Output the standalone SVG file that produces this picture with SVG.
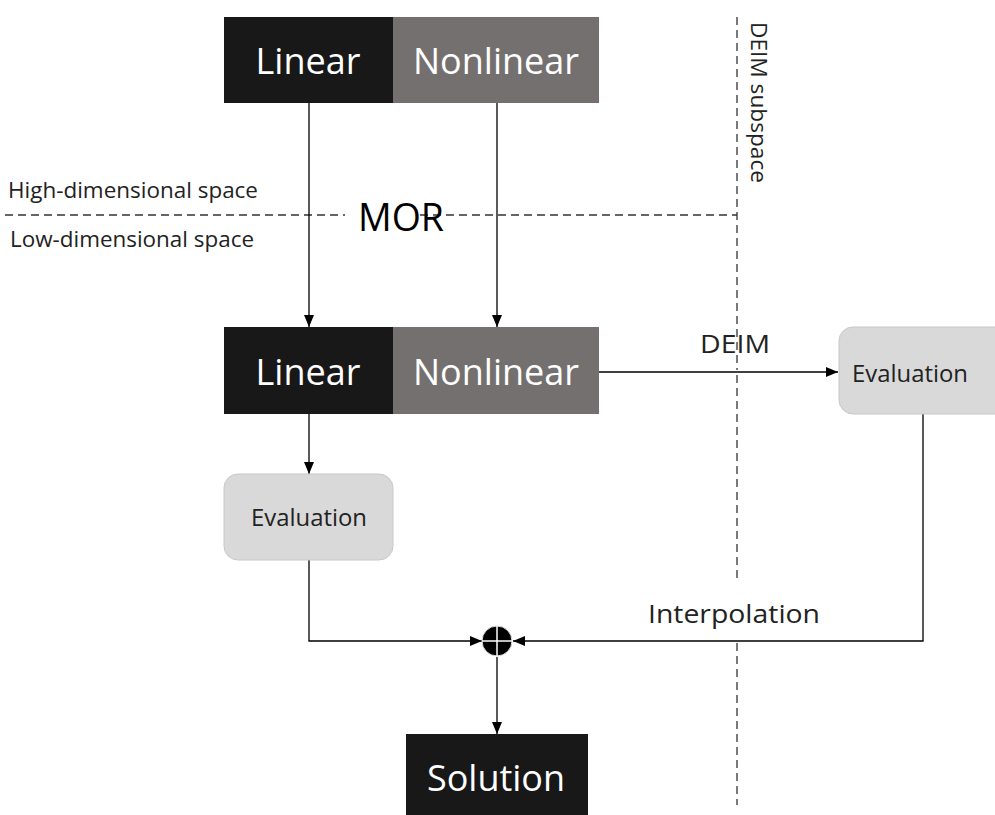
<svg xmlns="http://www.w3.org/2000/svg" width="995" height="815" viewBox="0 0 995 815">
<style>
text{font-family:"Open Sans","Noto Sans","DejaVu Sans",sans-serif;}
.wt{fill:#ffffff;font-size:36px;text-anchor:middle;}
.bt{fill:#222;text-anchor:middle;}
.ln{stroke:#000;stroke-width:1.3;fill:none;}
.dash{stroke:#333;stroke-width:1.3;fill:none;stroke-dasharray:8,5;}
.dark{fill:#181818;}
.gray{fill:#757070;}
.eval{fill:#d9d9d9;stroke:#c8c8c8;stroke-width:1;}
</style>
<defs>
<marker id="ah" markerWidth="12" markerHeight="10" refX="12" refY="5" orient="auto" markerUnits="userSpaceOnUse">
<path d="M0,0 L12,5 L0,10 Z" fill="#000"/>
</marker>
</defs>
<g id="dividers">
<line class="dash" x1="5" y1="215" x2="345" y2="215"/>
<line class="dash" x1="420" y1="215" x2="737" y2="215"/>
<line class="dash" x1="737" y1="17" x2="737" y2="370"/>
<line class="dash" x1="737" y1="375" x2="737" y2="582"/>
<line class="dash" x1="737" y1="643" x2="737" y2="805"/>
<text x="8" y="198" font-size="21" fill="#222" textLength="250" lengthAdjust="spacingAndGlyphs">High-dimensional space</text>
<text x="10" y="247" font-size="21" fill="#222" textLength="244" lengthAdjust="spacingAndGlyphs">Low-dimensional space</text>
<text x="401" y="231" font-size="38" fill="#000" text-anchor="middle" textLength="86" lengthAdjust="spacingAndGlyphs">MOR</text>
<text transform="translate(751,22) rotate(90)" font-size="21" fill="#222" textLength="161" lengthAdjust="spacingAndGlyphs">DEIM subspace</text>
</g>
<g id="connectors">
<line class="ln" x1="309" y1="103" x2="309" y2="327" marker-end="url(#ah)"/>
<line class="ln" x1="497" y1="103" x2="497" y2="327" marker-end="url(#ah)"/>
<line class="ln" x1="599" y1="372" x2="838" y2="372" marker-end="url(#ah)"/>
<text x="735" y="353" font-size="26" class="bt" textLength="70" lengthAdjust="spacingAndGlyphs">DEIM</text>
<line class="ln" x1="309" y1="414" x2="309" y2="474" marker-end="url(#ah)"/>
<polyline class="ln" points="309,560 309,641 482,641" marker-end="url(#ah)"/>
<polyline class="ln" points="923,414 923,641 513,641" marker-end="url(#ah)"/>
<text x="734" y="623" font-size="26" class="bt" textLength="172" lengthAdjust="spacingAndGlyphs">Interpolation</text>
<line class="ln" x1="497" y1="657" x2="497" y2="734" marker-end="url(#ah)"/>
</g>
<g id="top-linear">
<rect class="dark" x="224" y="17" width="169" height="86"/>
<text class="wt" x="308" y="74">Linear</text>
</g>
<g id="top-nonlinear">
<rect class="gray" x="393" y="17" width="206" height="86"/>
<text class="wt" x="496" y="74">Nonlinear</text>
</g>
<g id="mid-linear">
<rect class="dark" x="224" y="327" width="169" height="87"/>
<text class="wt" x="308" y="385">Linear</text>
</g>
<g id="mid-nonlinear">
<rect class="gray" x="393" y="327" width="206" height="87"/>
<text class="wt" x="496" y="385">Nonlinear</text>
</g>
<g id="eval-right">
<rect class="eval" x="839" y="327" width="170" height="87" rx="14"/>
<text class="bt" x="910" y="382" font-size="24" textLength="116" lengthAdjust="spacingAndGlyphs">Evaluation</text>
</g>
<g id="eval-left">
<rect class="eval" x="224" y="474" width="169" height="86" rx="14"/>
<text class="bt" x="309" y="526" font-size="24" textLength="116" lengthAdjust="spacingAndGlyphs">Evaluation</text>
</g>
<g id="sum">
<circle cx="497" cy="641" r="15" fill="#000" stroke="#ddd" stroke-width="1"/>
<line x1="482" y1="641" x2="512" y2="641" stroke="#fff" stroke-width="1.5"/>
<line x1="497" y1="626" x2="497" y2="656" stroke="#fff" stroke-width="1.5"/>
</g>
<g id="solution">
<rect class="dark" x="406" y="734" width="182" height="81"/>
<text class="wt" x="496" y="791">Solution</text>
</g>
</svg>
